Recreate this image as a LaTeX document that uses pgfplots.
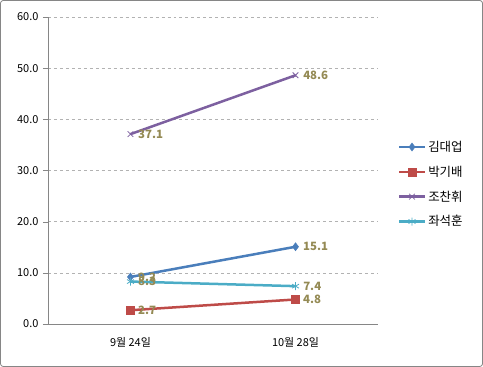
\documentclass[border=0pt]{standalone}
\usepackage{pgfplots}
\pgfplotsset{compat=1.18}
\usepackage{fontspec}
\setmainfont{Noto Sans CJK KR}
\definecolor{cblue}{HTML}{4A7EBB}
\definecolor{cred}{HTML}{BE4B48}
\definecolor{cpurple}{HTML}{7D60A0}
\definecolor{ccyan}{HTML}{4BACC6}
\definecolor{clabel}{HTML}{948A54}
\definecolor{caxis}{HTML}{868686}
\begin{document}
\begin{tikzpicture}[x=1bp,y=1bp]
\draw[caxis, rounded corners=3bp, line width=0.8bp] (0.5,0.5) rectangle (482.5,366.5);
\begin{axis}[
  at={(48bp,43bp)}, anchor=south west,
  scale only axis, width=330bp, height=307bp,
  xmin=-0.5, xmax=1.5, ymin=0, ymax=60,
  xtick={0,1}, xticklabels={9월 24일, 10월 28일},
  major x tick style={draw=none},
  extra x ticks={-0.5,0.5,1.5}, extra x tick labels={},
  extra x tick style={major tick length=5bp, tick style={caxis}, grid=none},
  ytick={0,10,...,60},
  yticklabel={\pgfmathprintnumber[fixed,fixed zerofill,precision=1]{\tick}},
  /pgf/number format/assume math mode=true,
  axis x line*=bottom, axis y line*=left,
  axis line style={caxis, line width=0.8bp},
  tick style={caxis}, major tick length=5bp,
  tick align=outside,
  ymajorgrids, grid style={dashed, gray!60},
  ticklabel style={font=\fontsize{11}{13}\selectfont, text=black},
  yticklabel style={xshift=-1bp},
  xticklabel style={yshift=-5bp},
  legend style={at={(1.05,0.455)}, anchor=west, draw=none, fill=none,
    font=\fontsize{12.5}{14}\selectfont, row sep=9bp, cells={anchor=west}},
  legend image code/.code={\draw[mark repeat=2,mark phase=2] plot coordinates {(0bp,0bp)(13bp,0bp)(26bp,0bp)};},
  nodes near coords,
  nodes near coords style={anchor=west, xshift=4bp, font=\bfseries\fontsize{11.5}{13}\selectfont, text=clabel,
    /pgf/number format/.cd, fixed, fixed zerofill, precision=1, assume math mode=true},
  every axis plot/.append style={line width=2.5bp},
  clip=false,
]
\addplot[cblue, mark=diamond*, mark size=4bp, mark options={fill=cblue, line width=0.5bp}] coordinates {(0,9.2) (1,15.1)};
\addlegendentry{김대업}
\addplot[cred, mark=square*, mark size=4bp, mark options={fill=cred, line width=0.5bp}] coordinates {(0,2.7) (1,4.8)};
\addlegendentry{박기배}
\addplot[cpurple, mark=x, mark size=4bp, mark options={line width=0.8bp}] coordinates {(0,37.1) (1,48.6)};
\addlegendentry{조찬휘}
\addplot[ccyan, mark=asterisk, mark size=4bp, mark options={line width=0.8bp}] coordinates {(0,8.3) (1,7.4)};
\addlegendentry{좌석훈}
\end{axis}
\end{tikzpicture}
\end{document}
